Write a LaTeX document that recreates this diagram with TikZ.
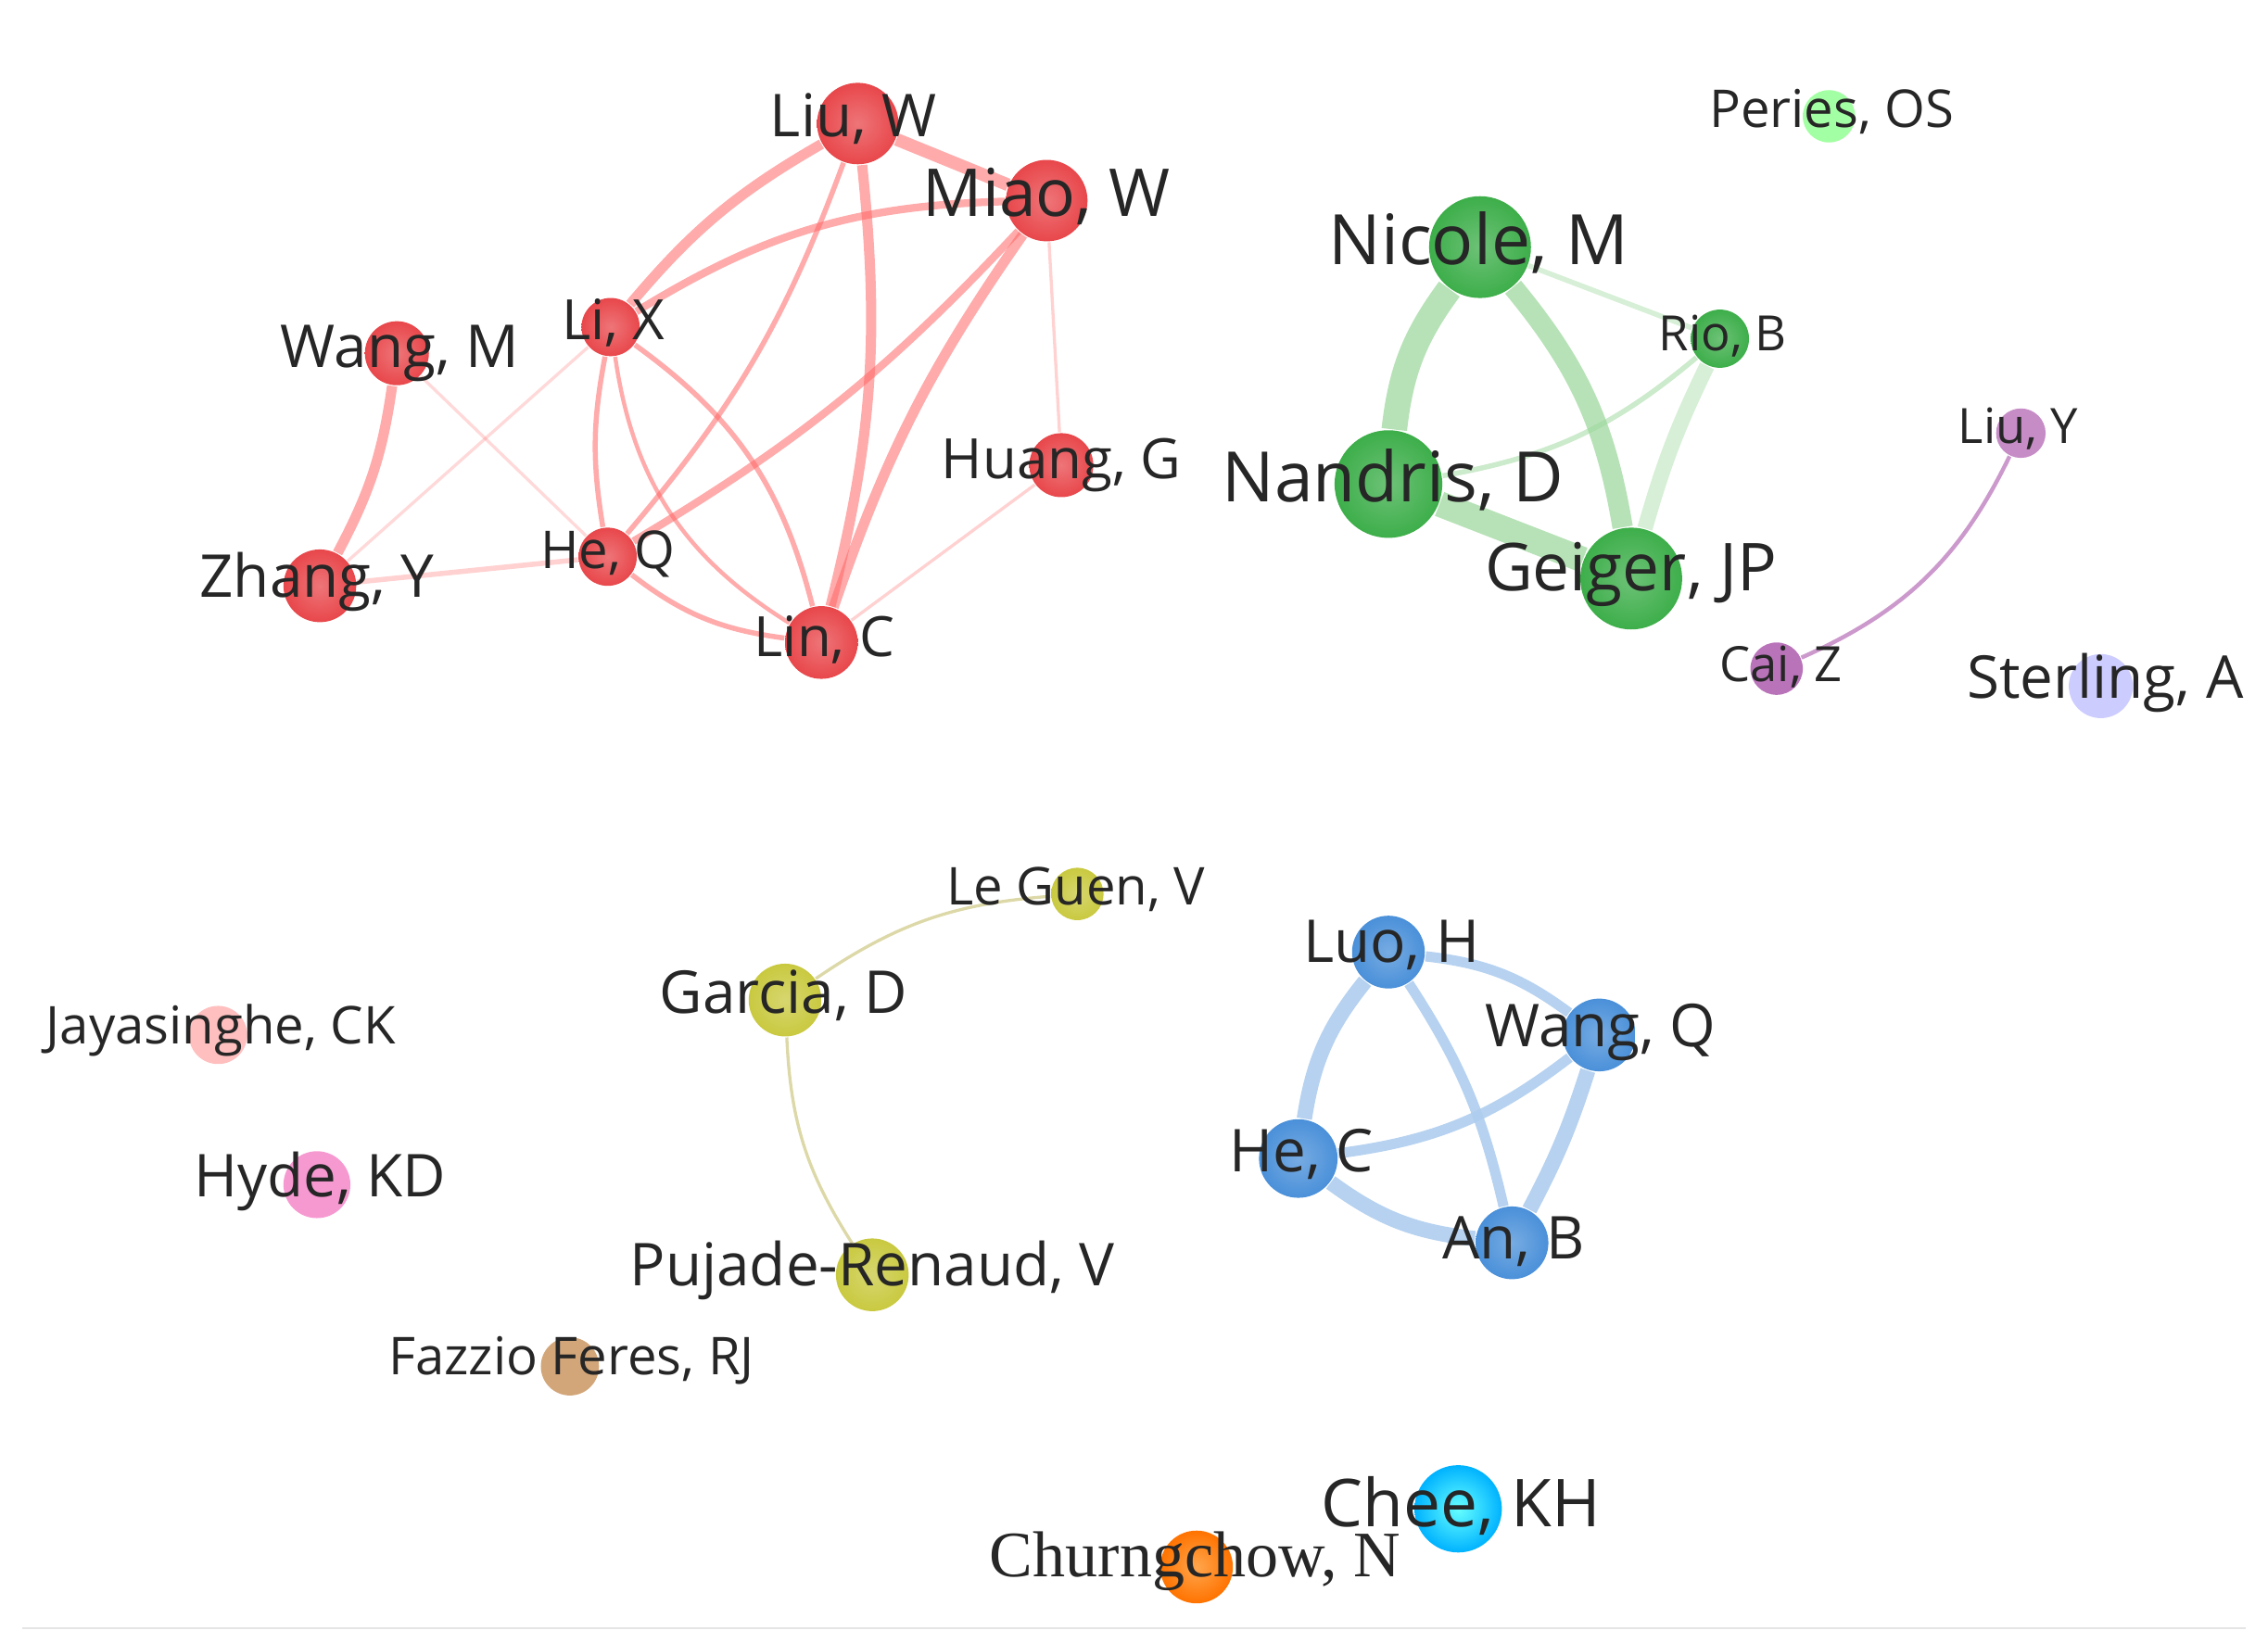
\documentclass[tikz,border=0pt]{standalone}
\usepackage{fontspec}
\setmainfont{Open Sans}
\newfontfamily\serifx{Liberation Serif}
\begin{document}
\begin{tikzpicture}[x=0.01cm,y=-0.01cm,
 bub/.style={circle,inner sep=0pt,minimum size=#1*0.02cm},
 lab/.style={text=black!85,inner sep=0pt,font={\pgfmathsetmacro\fsz{#1*0.68}\fontsize{\fsz}{\fsz}\selectfont}},
 red/.style={draw=red!60!white,opacity=0.55},
 grn/.style={draw=green!60!black!40!white,opacity=0.7},
 blu/.style={draw=cb!45!white,opacity=0.9}]
\useasboundingbox (0,0) rectangle (1560,1130);
\draw[black!10] (15,1120) -- (1545,1120);
\definecolor{cr}{HTML}{E8474B}\definecolor{cg}{HTML}{3DAE4A}\definecolor{cb}{HTML}{4A90D9}
\definecolor{cy}{HTML}{C9C940}
% nodes
\foreach \n/\x/\y/\r/\c in {liuw/590/85/28/cr,miao/720/138/28/cr,lix/420/225/20/cr,wangm/273/243/22/cr,huang/730/320/22/cr,zhang/220/403/25/cr,heq/418/383/20/cr,lin/565/442/25/cr,
 nicole/1018/170/35/cg,rio/1183/233/20/cg,nandris/955/333/37/cg,geiger/1122/398/35/cg,
 luo/955/655/25/cb,wangq/1100/712/25/cb,hec/893/797/27/cb,anb/1040/855/25/cb,
 leguen/741/615/18/cy,garcia/540/688/25/cy,pujade/600/877/25/cy}
 \node[bub=\r,inner color=\c!75!white,outer color=\c] (\n) at (\x,\y) {};
\node[bub=18,fill=green!45!white!80] (peries) at (1258,80) {};
\node[bub=17,fill=violet!45!white] (liuy) at (1390,298) {};
\node[bub=18,fill=violet!55!white] (caiz) at (1222,460) {};
\node[bub=22,fill=blue!20!white] (sterling) at (1445,472) {};
\node[bub=20,fill=red!25!white] (jaya) at (150,712) {};
\node[bub=23,fill=magenta!40!white] (hyde) at (218,815) {};
\node[bub=20,fill=brown!70!white] (fazzio) at (392,940) {};
\node[bub=30,inner color=cyan!60,outer color=cyan!70!blue] (chee) at (1003,1038) {};
\node[bub=25,inner color=orange!70,outer color=orange!90!red] (churn) at (823,1078) {};
% edges
\draw[red,line width=2pt] (liuw) to[bend right=10] (lix);
\draw[red,line width=2pt] (liuw) to[bend left=10] (lin);
\draw[red,line width=2.5pt] (liuw) -- (miao);
\draw[red,line width=1.5pt] (miao) to[bend right=15] (lix);
\draw[red,line width=2pt] (miao) to[bend right=8] (lin);
\draw[red,line width=1.5pt] (miao) to[bend left=8] (heq);
\draw[red,line width=1pt] (lix) to[bend right=10] (heq);
\draw[red,line width=1pt] (lix) to[bend left=20] (lin);
\draw[red,line width=0.8pt] (lix) to[bend right=25] (lin);
\draw[red,line width=2pt] (wangm) to[bend left=10] (zhang);
\draw[red,line width=0.6pt,opacity=0.25] (wangm) -- (heq);
\draw[red,line width=1pt,opacity=0.3] (zhang) -- (heq);
\draw[red,line width=0.6pt,opacity=0.25] (zhang) -- (lix);
\draw[red,line width=1pt] (heq) to[bend right=15] (lin);
\draw[red,line width=0.6pt,opacity=0.3] (lin) -- (huang);
\draw[red,line width=0.6pt,opacity=0.3] (miao) -- (huang);
\draw[red,line width=1pt] (liuw) to[bend left=10] (heq);
\draw[grn,line width=5pt] (nicole) to[bend right=15] (nandris);
\draw[grn,line width=4pt] (nicole) to[bend left=15] (geiger);
\draw[grn,line width=5pt] (nandris) -- (geiger);
\draw[grn,line width=1pt,opacity=0.4] (nicole) -- (rio);
\draw[grn,line width=1pt,opacity=0.5] (nandris) to[bend right=15] (rio);
\draw[grn,line width=3pt,opacity=0.4] (geiger) to[bend left=5] (rio);
\draw[violet!40,line width=0.8pt] (liuy) to[bend left=20] (caiz);
\draw[yellow!60!black!40,line width=0.6pt] (leguen) to[bend right=15] (garcia);
\draw[yellow!60!black!40,line width=0.6pt] (garcia) to[bend right=15] (pujade);
\draw[blu,line width=2pt] (luo) to[bend left=15] (wangq);
\draw[blu,line width=3pt] (luo) to[bend right=15] (hec);
\draw[blu,line width=2pt] (luo) to[bend left=10] (anb);
\draw[blu,line width=2pt] (hec) to[bend right=15] (wangq);
\draw[blu,line width=3pt] (hec) to[bend right=15] (anb);
\draw[blu,line width=3pt] (wangq) to[bend left=5] (anb);
% labels
\node[lab=17] at (587,82) {Liu, W};
\node[lab=19] at (720,135) {Miao, W};
\node[lab=16] at (422,222) {Li, X};
\node[lab=17] at (275,243) {Wang, M};
\node[lab=16] at (730,320) {Huang, G};
\node[lab=17] at (218,400) {Zhang, Y};
\node[lab=15] at (418,381) {He, Q};
\node[lab=16] at (567,440) {Lin, C};
\node[lab=20] at (1017,167) {Nicole, M};
\node[lab=14] at (1185,231) {Rio, B};
\node[lab=20] at (958,330) {Nandris, D};
\node[lab=19] at (1122,395) {Geiger, JP};
\node[lab=15] at (1260,77) {Peries, OS};
\node[lab=14] at (1388,295) {Liu, Y};
\node[lab=14] at (1225,459) {Cai, Z};
\node[lab=17] at (1448,470) {Sterling, A};
\node[lab=15] at (740,612) {Le Guen, V};
\node[lab=17] at (539,685) {Garcia, D};
\node[lab=17] at (600,874) {Pujade-Renaud, V};
\node[lab=15] at (152,709) {Jayasinghe, CK};
\node[lab=17] at (220,813) {Hyde, KD};
\node[lab=15] at (393,936) {Fazzio Feres, RJ};
\node[lab=17] at (957,650) {Luo, H};
\node[lab=17] at (1101,710) {Wang, Q};
\node[lab=17] at (895,794) {He, C};
\node[lab=17] at (1041,854) {An, B};
\node[lab=19] at (1005,1036) {Chee, KH};
\node[text=black!85,inner sep=0pt,font=\serifx\fontsize{12.7}{13}\selectfont] at (822,1074) {Churngchow, N};
\end{tikzpicture}
\end{document}
